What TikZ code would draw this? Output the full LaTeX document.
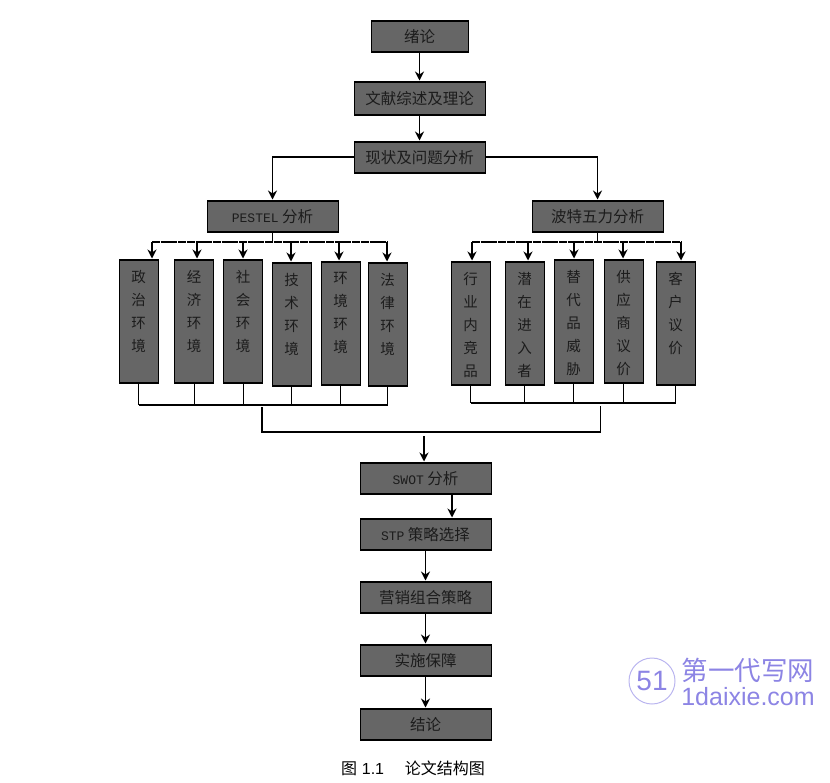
\documentclass[tikz,border=0pt]{standalone}
\usepackage{fontspec}
\setmainfont{Noto Sans CJK SC}
\newfontfamily\latinfont{Liberation Mono}
\newfontfamily\capfont{Liberation Sans}
\usetikzlibrary{calc,arrows.meta}
\definecolor{boxgray}{HTML}{666666}
\definecolor{inkdark}{HTML}{1C1C1C}
\definecolor{markviolet}{HTML}{8C84E4}
\newcommand{\vlabel}[1]{\parbox[c][120pt][t]{37pt}{\centering\baselineskip=23pt\vspace{9pt}#1}}
\tikzset{
    stagebox/.style={draw=black,line width=1pt,fill=boxgray,text=inkdark,font=\fontsize{15.5}{17}\selectfont,inner sep=0pt,minimum width=131pt,minimum height=32pt,text height=14pt,text depth=2pt,
        path picture={\draw[line width=3pt] (path picture bounding box.north west) -- (path picture bounding box.north east);
            \draw[line width=3pt] (path picture bounding box.south west) -- (path picture bounding box.south east);}},
    factorbox/.style={stagebox,font=\fontsize{14.5}{16}\selectfont,minimum width=39pt,minimum height=124pt,text height={},text depth={}},
    flow/.style={line width=1.4pt,-{Stealth[length=9pt,width=9pt]}},
    busline/.style={line width=1.5pt,dash pattern=on 8pt off 0.7pt},
    joinline/.style={line width=1.1pt}
}

\begin{document}
\begin{tikzpicture}[x=1pt,y=-1pt]
    \useasboundingbox (0,0) rectangle (830,782);
    % main column
    \node[stagebox,minimum width=97pt] (intro) at (419.5,36) {绪论};
    \node[stagebox,minimum height=34pt] (review) at (419.5,98) {文献综述及理论};
    \node[stagebox] (status) at (419.5,157) {现状及问题分析};
    \node[stagebox] (pestel) at (272.5,216) {{\latinfont\fontsize{13}{15}\selectfont PESTEL} 分析};
    \node[stagebox] (porter) at (597.5,216) {波特五力分析};
    \node[stagebox] (swot) at (425.5,478) {{\latinfont\fontsize{13}{15}\selectfont SWOT} 分析};
    \node[stagebox] (stp) at (425.5,534) {{\latinfont\fontsize{13}{15}\selectfont STP} 策略选择};
    \node[stagebox] (mix) at (425.5,597) {营销组合策略};
    \node[stagebox] (impl) at (425.5,660) {实施保障};
    \node[stagebox] (concl) at (425.5,724) {结论};
    % factor boxes
    \foreach \name/\xpos/\ypos/\txt in {
        zhengzhi/138.5/321/{政\\治\\环\\境},
        jingji/194/321/{经\\济\\环\\境},
        shehui/243/321/{社\\会\\环\\境},
        jishu/291.5/324/{技\\术\\环\\境},
        huanjing/340.5/323/{环\\境\\环\\境},
        falv/387.5/324/{法\\律\\环\\境},
        hangye/470.5/323/{行\\业\\内\\竞\\品},
        qianzai/524.5/323/{潜\\在\\进\\入\\者},
        tidai/573.5/321/{替\\代\\品\\威\\胁},
        gongying/623.5/321/{供\\应\\商\\议\\价},
        kehu/675.5/323/{客\\户\\议\\价}}
        \node[factorbox] (\name) at (\xpos,\ypos) {\vlabel{\txt}};
    % arrows
    \draw[flow] (intro) -- (review);
    \draw[flow] (review) -- (status);
    \draw[flow] (status.west) -| (pestel.north);
    \draw[flow] (status.east) -| (porter.north);
    \coordinate (pestelbus) at (272.5,242);
    \coordinate (porterbus) at (509,242);
    \draw[joinline] (pestel.south) -- (pestelbus);
    \draw[joinline] (porter.south) -- (porter.south |- porterbus);
    \draw[busline] (152,242) -- (387,242);
    \draw[busline] (472,242) -- (681,242);
    \foreach \name/\xpos in {zhengzhi/152,jingji/197,shehui/243,jishu/291,huanjing/339,falv/387}
        \draw[flow] (\xpos,242) -- (\xpos,\xpos |- \name.north);
    \foreach \name/\xpos in {hangye/472,qianzai/528,tidai/574,gongying/623,kehu/681}
        \draw[flow] (\xpos,242) -- (\xpos,\xpos |- \name.north);
    % joins below the boxes
    \coordinate (pestelend) at (0,405);
    \coordinate (porterend) at (0,403);
    \foreach \name in {zhengzhi,jingji,shehui,jishu,huanjing,falv}
        \draw[line width=0.8pt] (\name.south) -- (\name.south |- pestelend);
    \foreach \name in {hangye,qianzai,tidai,gongying,kehu}
        \draw[line width=0.8pt] (\name.south) -- (\name.south |- porterend);
    \draw[joinline] (zhengzhi.south |- pestelend) -- (falv.south |- pestelend);
    \draw[joinline] (hangye.south |- porterend) -- (kehu.south |- porterend);
    \coordinate (pestelfoot) at (262,407);
    \coordinate (porterfoot) at (600.5,406);
    \draw[joinline] (pestelfoot) |- (600.5,432) -- (porterfoot);
    \coordinate (mergetop) at (424,436);
    \draw[flow] (mergetop) -- (mergetop |- swot.north);
    \draw[flow] (swot.south -| 452,0) -- (stp.north -| 452,0);
    \draw[flow] (stp) -- (mix);
    \draw[flow] (mix) -- (impl);
    \draw[flow] (impl) -- (concl);
    % caption and mark
    \node[font=\fontsize{16}{18}\selectfont,inner sep=0pt] (caption) at (413,768) {图\hspace{0.3em}{\capfont 1.1}\hspace{1.3em}论文结构图};
    \node[draw=markviolet!60,circle,line width=1pt,minimum size=46pt,inner sep=0pt,text=markviolet,font=\capfont\fontsize{28}{30}\selectfont] (logo) at (652,681) {51};
    \node[text=markviolet,font=\fontsize{26.5}{28}\selectfont,inner sep=0pt] (markcn) at (748,670) {第一代写网};
    \node[text=markviolet,font=\capfont\fontsize{25}{27}\selectfont,inner sep=0pt] (markurl) at (748,697) {1daixie.com};
\end{tikzpicture}
\end{document}
